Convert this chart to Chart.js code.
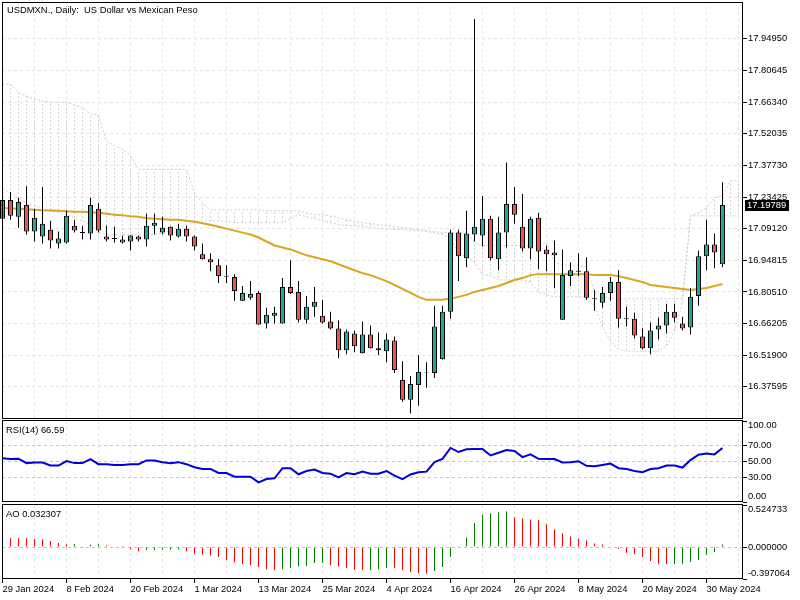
<!DOCTYPE html>
<html>
<head>
<meta charset="utf-8">
<script src="https://cdn.jsdelivr.net/npm/chart.js@4.4.1/dist/chart.umd.min.js"></script>
<style>
  body { margin: 0; background: #fff; }
  #wrap { position: relative; width: 800px; height: 600px; }
  #wrap canvas { position: absolute; left: 0; top: 0; }
</style>
</head>
<body>
<div id="wrap">
  <canvas id="mainChart" width="800" height="600"></canvas>
  <canvas id="rsiChart" width="800" height="600"></canvas>
  <canvas id="aoChart" width="800" height="600"></canvas>
</div>
<script>
const mainTitle = 'USDMXN., Daily:  US Dollar vs Mexican Peso';
const rsiTitle = 'RSI(14) 66.59';
const aoTitle = 'AO 0.032307';

const dateLabels = ['29 Jan 2024', '8 Feb 2024', '20 Feb 2024', '1 Mar 2024', '13 Mar 2024', '25 Mar 2024',
  '4 Apr 2024', '16 Apr 2024', '26 Apr 2024', '8 May 2024', '20 May 2024', '30 May 2024'];
const priceTicks = [16.37595, 16.51900, 16.66205, 16.80510, 16.94815, 17.09120,
  17.23425, 17.37730, 17.52035, 17.66340, 17.80645, 17.94950];
const rsiTicks = [0, 30, 50, 70, 100];
const aoTicks = [-0.397064, 0, 0.524733];
const lastPrice = 17.19789;

const openPrices = [17.1359, 17.2208, 17.1448, 17.1985, 17.0778, 17.0555, 17.0867, 17.0242, 17.0286, 17.1046,
  17.0760, 17.0689, 17.1806, 17.0555, 17.0487, 17.0420, 17.0331, 17.0555, 17.0420, 17.1046,
  17.0733, 17.1002, 17.0555, 17.0912, 17.0555, 16.9750, 16.9526, 16.9258, 16.8788, 16.8722,
  16.7649, 16.7783, 16.8006, 16.6621, 16.6978, 16.6621, 16.8274, 16.8051, 16.6799, 16.7381,
  16.6978, 16.6710, 16.6397, 16.5414, 16.6174, 16.5279, 16.6129, 16.5503, 16.5369, 16.5861,
  16.4072, 16.3178, 16.3849, 16.4408, 16.4385, 16.5011, 16.7157, 17.0733, 16.9571, 17.0644,
  17.0599, 17.1359, 16.9526, 17.0733, 17.2030, 17.1002, 17.0018, 17.1404, 16.9973, 16.9839,
  16.6799, 16.8766, 16.9012, 16.8990, 16.7760, 16.7559, 16.8006, 16.8498, 16.6866, 16.6844,
  16.6039, 16.5503, 16.6352, 16.6531, 16.7157, 16.6621, 16.6442, 16.7872, 16.9660, 17.0197,
  16.9303];
const highPrices = [17.2298, 17.2566, 17.2298, 17.2834, 17.1806, 17.2790, 17.1270, 17.0778, 17.1717, 17.1314,
  17.1046, 17.2298, 17.2074, 17.1046, 17.1002, 17.0599, 17.0610, 17.0599, 17.1583, 17.1583,
  17.1448, 17.1010, 17.1136, 17.1046, 17.0599, 17.0242, 16.9795, 16.9526, 16.9258, 16.8856,
  16.8319, 16.8543, 16.8096, 16.7336, 16.7381, 16.8677, 16.9482, 16.8543, 16.7872, 16.8274,
  16.7694, 16.7157, 16.6755, 16.6352, 16.6308, 16.6710, 16.6531, 16.6218, 16.6174, 16.6039,
  16.4922, 16.4251, 16.5190, 16.4877, 16.7425, 16.7425, 17.0867, 17.0867, 17.1717, 18.0389,
  17.2387, 17.1493, 17.1448, 17.3907, 17.2790, 17.2477, 17.1448, 17.1627, 17.0152, 17.0376,
  16.9973, 16.9392, 16.9795, 16.9616, 16.8140, 16.8274, 16.8722, 16.9034, 16.7381, 16.7112,
  16.6397, 16.6665, 16.6889, 16.7515, 16.7515, 16.6933, 16.8230, 16.9929, 17.1314, 17.0689,
  17.3013];
const lowPrices = [17.1270, 17.1314, 17.0957, 17.0644, 17.0331, 17.0242, 17.0018, 17.0018, 17.0242, 17.0733,
  17.0420, 17.0420, 17.0733, 17.0331, 17.0286, 17.0242, 16.9929, 17.0331, 17.0107, 17.0644,
  17.0644, 17.0376, 17.0510, 17.0331, 16.9929, 16.9520, 16.8990, 16.8453, 16.8453, 16.7649,
  16.7640, 16.7694, 16.6570, 16.6397, 16.6621, 16.6610, 16.7962, 16.6665, 16.6621, 16.6933,
  16.6621, 16.6352, 16.5056, 16.5235, 16.5324, 16.5270, 16.5495, 16.5190, 16.4877, 16.4385,
  16.3089, 16.2553, 16.2910, 16.3715, 16.4162, 16.5000, 16.6844, 16.8543, 16.9169, 17.0331,
  17.0107, 16.9482, 16.9034, 17.0063, 17.1136, 16.9884, 16.9526, 16.9079, 16.8990, 16.8230,
  16.6790, 16.8319, 16.8766, 16.7694, 16.7202, 16.7336, 16.7649, 16.6442, 16.6486, 16.5950,
  16.5458, 16.5235, 16.5905, 16.6174, 16.6665, 16.6308, 16.6129, 16.7425, 16.9034, 16.9124,
  16.9169];
const closePrices = [17.2208, 17.1493, 17.2119, 17.0778, 17.1404, 17.1136, 17.0376, 17.0465, 17.1493, 17.0823,
  17.0715, 17.1985, 17.0823, 17.0420, 17.0442, 17.0286, 17.0599, 17.0420, 17.1046, 17.1180,
  17.0957, 17.0599, 17.0912, 17.0555, 17.0107, 16.9526, 16.9392, 16.8766, 16.8743, 16.8096,
  16.8006, 16.7962, 16.6576, 16.7023, 16.7112, 16.8274, 16.8006, 16.6799, 16.7381, 16.7604,
  16.6665, 16.6397, 16.5414, 16.6263, 16.5592, 16.6129, 16.5503, 16.5414, 16.5905, 16.4520,
  16.3178, 16.3894, 16.4430, 16.4385, 16.6486, 16.7157, 17.0733, 16.9660, 17.0689, 17.1002,
  17.1359, 16.9571, 17.0733, 17.2030, 17.1538, 17.0018, 17.1359, 16.9884, 16.9750, 16.9705,
  16.8811, 16.9034, 16.8967, 16.7783, 16.7715, 16.8006, 16.8498, 16.6844, 16.6822, 16.6084,
  16.5503, 16.6308, 16.6531, 16.7157, 16.6889, 16.6397, 16.7828, 16.9660, 17.0197, 16.9839,
  17.19789];

const movingAverage = [17.1851, 17.1828, 17.1806, 17.1784, 17.1761, 17.1739, 17.1730, 17.1717, 17.1694, 17.1672,
  17.1672, 17.1650, 17.1627, 17.1583, 17.1538, 17.1516, 17.1471, 17.1448, 17.1381, 17.1359,
  17.1337, 17.1314, 17.1314, 17.1270, 17.1225, 17.1158, 17.1091, 17.1002, 17.0912, 17.0823,
  17.0733, 17.0644, 17.0510, 17.0331, 17.0152, 17.0063, 16.9973, 16.9839, 16.9705, 16.9616,
  16.9526, 16.9437, 16.9303, 16.9169, 16.9034, 16.8900, 16.8811, 16.8677, 16.8543, 16.8364,
  16.8185, 16.8006, 16.7828, 16.7694, 16.7694, 16.7694, 16.7738, 16.7828, 16.7917, 16.8051,
  16.8140, 16.8230, 16.8319, 16.8453, 16.8588, 16.8677, 16.8811, 16.8856, 16.8856, 16.8856,
  16.8856, 16.8856, 16.8856, 16.8856, 16.8811, 16.8811, 16.8811, 16.8766, 16.8677, 16.8588,
  16.8498, 16.8364, 16.8319, 16.8274, 16.8230, 16.8185, 16.8140, 16.8185, 16.8230, 16.8319,
  16.8409];

// Ichimoku cloud, 2 bars longer than the price series
const cloudTop = [17.744, 17.744, 17.708, 17.690, 17.677, 17.668, 17.663, 17.663, 17.663, 17.650,
  17.637, 17.610, 17.605, 17.485, 17.467, 17.449, 17.422, 17.359, 17.359, 17.359,
  17.359, 17.359, 17.359, 17.359, 17.252, 17.207, 17.176, 17.176, 17.176, 17.176,
  17.176, 17.176, 17.176, 17.172, 17.172, 17.172, 17.172, 17.172, 17.163, 17.154,
  17.154, 17.149, 17.140, 17.131, 17.123, 17.118, 17.114, 17.109, 17.105, 17.100,
  17.096, 17.091, 17.087, 17.082, 17.078, 17.073, 17.073, 17.073, 17.073, 17.029,
  17.015, 17.015, 17.015, 17.015, 17.015, 17.015, 17.015, 17.015, 17.029, 16.939,
  16.926, 16.926, 16.926, 16.917, 16.805, 16.778, 16.774, 16.774, 16.774, 16.774,
  16.774, 16.774, 16.774, 16.774, 16.774, 16.778, 17.149, 17.163, 17.185, 17.230,
  17.243, 17.306, 17.310];
const cloudBottom = [17.274, 17.252, 17.230, 17.207, 17.194, 17.185, 17.172, 17.163, 17.154, 17.140,
  17.127, 17.109, 17.073, 17.064, 17.064, 17.064, 17.064, 17.064, 17.064, 17.064,
  17.073, 17.082, 17.096, 17.109, 17.118, 17.127, 17.127, 17.127, 17.123, 17.118,
  17.118, 17.118, 17.118, 17.118, 17.118, 17.118, 17.136, 17.154, 17.145, 17.136,
  17.127, 17.118, 17.109, 17.105, 17.105, 17.100, 17.096, 17.091, 17.091, 17.087,
  17.087, 17.082, 17.082, 17.078, 17.073, 17.064, 17.047, 16.984, 16.962, 16.939,
  16.881, 16.881, 16.859, 16.859, 16.859, 16.859, 16.850, 16.805, 16.792, 16.783,
  16.783, 16.783, 16.783, 16.783, 16.738, 16.649, 16.582, 16.546, 16.537, 16.537,
  16.537, 16.537, 16.537, 16.559, 16.626, 16.760, 17.149, 17.149, 17.149, 17.149,
  17.149, 17.149, 17.149];

const rsiValues = [54, 53, 53.5, 48, 48.8, 48.8, 45, 45, 50.5, 48,
  48, 53, 46.7, 46.7, 45.8, 45.8, 46.7, 46.7, 51.3, 51.3,
  49.2, 48, 49.2, 46.7, 43, 40.8, 40.8, 35.8, 35.8, 31.3,
  31.3, 31.3, 24.2, 28.3, 29.2, 41.7, 41.7, 34.2, 38.3, 40,
  35.8, 35, 30.4, 35.8, 34.2, 37.5, 35, 35, 38.3, 32.5,
  28.3, 34, 36.7, 37.5, 49.2, 53.3, 66.7, 61.7, 65, 65.4,
  65.4, 57.5, 60.8, 64.2, 62.9, 55.4, 58.8, 53.3, 53, 53,
  48.8, 49, 50.4, 44.6, 44.2, 45.8, 47.5, 41.7, 40.8, 38.3,
  36.7, 40.8, 41.7, 45, 45, 42.5, 51.7, 58.3, 60, 58.8,
  66.59];

const aoValues = [0.115, 0.112, 0.112, 0.111, 0.100, 0.096, 0.075, 0.050, 0.036, 0.038,
  0.012, 0.029, 0.038, 0.021, 0.009, 0.002, -0.029, -0.053, -0.037, -0.036,
  -0.033, -0.032, -0.031, -0.053, -0.082, -0.095, -0.103, -0.124, -0.165, -0.190,
  -0.211, -0.227, -0.248, -0.277, -0.289, -0.277, -0.260, -0.240, -0.236, -0.198,
  -0.197, -0.227, -0.240, -0.260, -0.281, -0.289, -0.288, -0.277, -0.260, -0.262,
  -0.289, -0.310, -0.322, -0.328, -0.298, -0.248, -0.124, 0.005, 0.120, 0.299,
  0.402, 0.423, 0.435, 0.448, 0.373, 0.357, 0.344, 0.342, 0.286, 0.220,
  0.174, 0.133, 0.104, 0.083, 0.046, 0.034, 0.009, -0.024, -0.070, -0.087,
  -0.124, -0.174, -0.207, -0.211, -0.209, -0.207, -0.186, -0.161, -0.095, -0.062,
  0.032307];

// layout: every panel shares x 2..743, 8px per bar
const X_MIN = -0.0625;
const X_MAX = X_MIN + 741 / 8;
const PRICE_MAX = 18.09479;
const PRICE_MIN = 16.23069;
const FONT = { family: '"Liberation Sans", Arial, sans-serif', size: 9.4 };
const GRID = '#e4e4e4';
const BULL = '#26a69a';
const BEAR = '#ef5350';

Chart.defaults.font.family = FONT.family;
Chart.defaults.font.size = FONT.size;

const xGridSteps = [];
for (let v = 0; v <= 92; v += 4) xGridSteps.push(v);

function hatchPattern() {
  const c = document.createElement('canvas');
  c.width = 1;
  c.height = 4;
  const g = c.getContext('2d');
  g.fillStyle = '#d6d6d6';
  g.fillRect(0, 0, 1, 2);
  return g.createPattern(c, 'repeat');
}

function xAxis(showLabels) {
  return {
    type: 'linear', min: X_MIN, max: X_MAX, offset: false, bounds: 'data',
    afterBuildTicks: s => { s.ticks = xGridSteps.map(v => ({ value: v })); },
    afterFit: s => { s.height = showLabels ? 21 : 0; },
    grid: {
      color: GRID, offset: false, drawTicks: showLabels, tickLength: 4,
      tickColor: c => (c.tick && c.tick.value % 8 === 0) ? '#000' : 'rgba(0,0,0,0)'
    },
    border: { display: false, dash: [3, 3] },
    ticks: {
      display: showLabels, autoSkip: false, maxRotation: 0, align: 'start', padding: 1, color: '#000',
      callback: v => v % 8 === 0 ? dateLabels[v / 8] : ''
    }
  };
}

const panelFrame = {
  id: 'panelFrame',
  afterDraw(chart, args, opts) {
    const ctx = chart.ctx;
    const [t, b] = opts.rows;
    ctx.save();
    ctx.fillStyle = '#000';
    ctx.fillRect(2, t, 741, 1);
    ctx.fillRect(2, b, 741, 1);
    ctx.fillRect(2, t, 1, b - t + 1);
    ctx.fillRect(742, t, 1, b - t + 1);
    ctx.font = `${FONT.size}px ${FONT.family}`;
    ctx.textBaseline = 'middle';
    ctx.fillText(opts.title, opts.titleX, opts.titleY);
    ctx.restore();
  }
};

// indicator scales: MT5 keeps the end labels inside the window
const sideLabels = {
  id: 'sideLabels',
  afterDraw(chart, args, opts) {
    if (!opts.decimals && opts.decimals !== 0) return;
    const ctx = chart.ctx;
    const s = chart.scales.y;
    ctx.save();
    ctx.fillStyle = '#000';
    ctx.font = `${FONT.size}px ${FONT.family}`;
    ctx.textBaseline = 'middle';
    s.ticks.forEach(t => {
      let y = s.getPixelForValue(t.value);
      y = Math.min(Math.max(y, opts.rows[0] + 5), opts.rows[1] - 5);
      ctx.fillText(t.value.toFixed(opts.decimals), chart.chartArea.right + 5, y);
    });
    ctx.restore();
  }
};

const priceBox = {
  id: 'priceBox',
  afterDraw(chart) {
    if (chart.canvas.id !== 'mainChart') return;
    const ctx = chart.ctx;
    const y = chart.scales.y.getPixelForValue(lastPrice);
    ctx.save();
    ctx.fillStyle = '#000';
    ctx.fillRect(745, Math.round(y) - 5, 44, 11);
    ctx.fillStyle = '#fff';
    ctx.font = `${FONT.size}px ${FONT.family}`;
    ctx.textBaseline = 'middle';
    ctx.fillText(lastPrice.toFixed(5), 747, Math.round(y) + 0.5);
    ctx.restore();
  }
};

const common = {
  responsive: false, animation: false, devicePixelRatio: 1, events: [],
};

// ---- main price panel
const candleColors = closePrices.map((c, i) => c >= openPrices[i] ? BULL : BEAR);

new Chart(document.getElementById('mainChart'), {
  type: 'bar',
  data: {
    datasets: [
      {
        type: 'bar', data: cloudTop.map((v, i) => ({ x: i, y: [cloudBottom[i], v] })),
        backgroundColor: hatchPattern(), borderWidth: 0, barThickness: 1, grouped: false, inflateAmount: 0, order: 9
      },
      {
        type: 'line', data: cloudTop.map((v, i) => ({ x: i, y: v })),
        borderColor: '#cccccc', borderWidth: 1, borderDash: [2, 2], pointRadius: 0, order: 8
      },
      {
        type: 'line', data: cloudBottom.map((v, i) => ({ x: i, y: v })),
        borderColor: '#cccccc', borderWidth: 1, borderDash: [2, 2], pointRadius: 0, order: 8
      },
      {
        type: 'line', data: movingAverage.map((v, i) => ({ x: i, y: v })),
        borderColor: '#DAA520', borderWidth: 2, pointRadius: 0, order: 3
      },
      {
        type: 'bar', data: lowPrices.map((v, i) => ({ x: i, y: [v, highPrices[i]] })),
        backgroundColor: '#000', borderWidth: 0, barThickness: 1, grouped: false, inflateAmount: 0, clip: 4, order: 2
      },
      {
        type: 'bar', data: openPrices.map((v, i) => ({ x: i, y: [v, closePrices[i]] })),
        backgroundColor: candleColors, borderColor: '#000', borderWidth: 1, borderSkipped: false,
        barThickness: 5, grouped: false, inflateAmount: 0, clip: 4, order: 1
      }
    ]
  },
  options: {
    ...common,
    layout: { padding: { left: 2, top: 2, right: 0, bottom: 181 } },
    plugins: {
      legend: { display: false }, tooltip: { enabled: false },
      panelFrame: { rows: [2, 418], title: mainTitle, titleX: 7, titleY: 10 }
    },
    scales: {
      x: xAxis(false),
      y: {
        position: 'right', min: PRICE_MIN, max: PRICE_MAX, bounds: 'data',
        afterFit: s => { s.width = 57; },
        afterBuildTicks: s => { s.ticks = priceTicks.map(v => ({ value: v })); },
        grid: { color: GRID, tickLength: 4, tickColor: '#000' },
        border: { display: false, dash: [3, 3] },
        ticks: { color: '#000', padding: 1, callback: v => v.toFixed(5) }
      }
    }
  },
  plugins: [panelFrame, priceBox]
});

// ---- RSI panel
new Chart(document.getElementById('rsiChart'), {
  type: 'line',
  data: {
    datasets: [{
      data: rsiValues.map((v, i) => ({ x: i, y: v })),
      borderColor: '#0000dd', borderWidth: 2, pointRadius: 0
    }]
  },
  options: {
    ...common,
    layout: { padding: { left: 2, top: 421, right: 0, bottom: 98 } },
    plugins: {
      legend: { display: false }, tooltip: { enabled: false },
      panelFrame: { rows: [420, 501], title: rsiTitle, titleX: 6, titleY: 430 },
      sideLabels: { rows: [420, 501], decimals: 2 }
    },
    scales: {
      x: xAxis(false),
      y: {
        position: 'right', min: 0, max: 100, bounds: 'data',
        afterFit: s => { s.width = 57; },
        afterBuildTicks: s => { s.ticks = rsiTicks.map(v => ({ value: v })); },
        grid: {
          color: c => (c.tick && (c.tick.value === 0 || c.tick.value === 100)) ? 'rgba(0,0,0,0)' : '#c4c4c4',
          tickLength: 4, tickColor: '#000'
        },
        border: { display: false, dash: [3, 3] },
        ticks: { display: false }
      }
    }
  },
  plugins: [panelFrame, sideLabels]
});

// ---- Awesome Oscillator panel
const aoColors = aoValues.map((v, i) => (i > 0 && v > aoValues[i - 1]) ? '#008000' : '#ff0000');

new Chart(document.getElementById('aoChart'), {
  type: 'bar',
  data: {
    datasets: [{
      data: aoValues.map((v, i) => ({ x: i, y: v })),
      backgroundColor: aoColors, borderWidth: 0, barThickness: 1, grouped: false, inflateAmount: 0
    }]
  },
  options: {
    ...common,
    layout: { padding: { left: 2, top: 505, right: 0, bottom: 0 } },
    plugins: {
      legend: { display: false }, tooltip: { enabled: false },
      panelFrame: { rows: [504, 578], title: aoTitle, titleX: 6, titleY: 514 },
      sideLabels: { rows: [504, 578], decimals: 6 }
    },
    scales: {
      x: xAxis(true),
      y: {
        position: 'right', min: aoTicks[0], max: aoTicks[2], bounds: 'data',
        afterFit: s => { s.width = 57; },
        afterBuildTicks: s => { s.ticks = aoTicks.map(v => ({ value: v })); },
        grid: {
          color: c => (c.tick && c.tick.value === 0) ? '#c4c4c4' : 'rgba(0,0,0,0)',
          tickLength: 4, tickColor: '#000'
        },
        border: { display: false, dash: [3, 3] },
        ticks: { display: false }
      }
    }
  },
  plugins: [panelFrame, sideLabels]
});
</script>
</body>
</html>
